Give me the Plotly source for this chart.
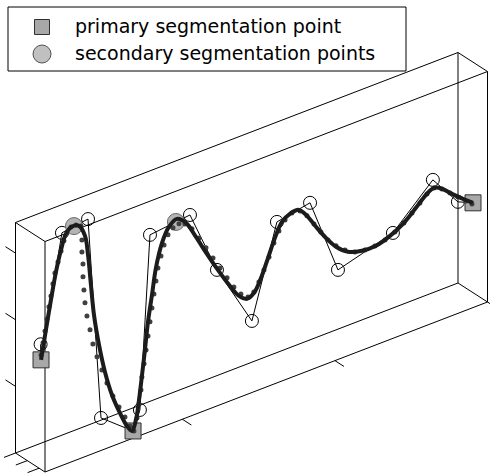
import plotly.graph_objects as go

# ---- axis limits and ticks (time [s], value, depth) ----
T_LIM = (0.1, 3.0)
V_LIM = (0.0, 1.73)
D_LIM = (0.0, 2.5)
T_TICKS = [1, 2, 3]
V_TICKS = [0.5, 1.0, 1.5]
D_TICKS = [0, 1, 2]
D_CURVE = 2.125          # depth plane that holds the stroke

# ---- reconstructed (smoothed) stroke ----
curve_t = [0.103, 0.135, 0.168, 0.201, 0.234, 0.266, 0.306, 0.352, 0.391, 0.411,
           0.430, 0.450, 0.483, 0.522, 0.568, 0.620, 0.666, 0.699, 0.725, 0.745,
           0.765, 0.784, 0.804, 0.830, 0.856, 0.896, 0.941, 0.994, 1.053, 1.118,
           1.190, 1.262, 1.335, 1.400, 1.453, 1.499, 1.545, 1.591, 1.636, 1.682,
           1.734, 1.793, 1.846, 1.905, 1.970, 2.036, 2.114, 2.206, 2.298, 2.390,
           2.475, 2.560, 2.626, 2.678, 2.731, 2.796, 2.868, 2.934]
curve_v = [0.819, 1.029, 1.240, 1.436, 1.587, 1.693, 1.730, 1.715, 1.623, 1.471,
           1.238, 1.004, 0.764, 0.544, 0.351, 0.193, 0.075, 0.023, 0.095, 0.236,
           0.415, 0.594, 0.796, 0.986, 1.178, 1.348, 1.448, 1.485, 1.429, 1.295,
           1.136, 0.984, 0.840, 0.728, 0.683, 0.708, 0.800, 0.930, 1.060, 1.160,
           1.197, 1.201, 1.133, 1.025, 0.913, 0.817, 0.745, 0.712, 0.709, 0.743,
           0.796, 0.879, 0.947, 0.977, 0.947, 0.880, 0.811, 0.752]

# ---- raw pen samples ----
sample_t = [0.103, 0.116, 0.129, 0.142, 0.155, 0.168, 0.181, 0.194, 0.214, 0.234,
            0.253, 0.273, 0.299, 0.332, 0.365,
            0.371, 0.371, 0.378, 0.378, 0.384, 0.391, 0.404, 0.424, 0.443, 0.470,
            0.502, 0.535, 0.574, 0.614, 0.653, 0.686, 0.712,
            0.732, 0.745, 0.758, 0.764, 0.778, 0.791, 0.804, 0.817, 0.830, 0.843,
            0.856, 0.869, 0.889, 0.909, 0.935, 0.968, 1.007, 1.046,
            1.092, 1.138, 1.184, 1.230, 1.276, 1.322, 1.367, 1.413, 1.459, 1.498,
            1.531, 1.564, 1.597, 1.629, 1.662, 1.702, 1.747, 1.800, 1.846, 1.892,
            1.937, 1.983, 2.036, 2.095, 2.160, 2.226, 2.291, 2.357, 2.422, 2.481,
            2.534, 2.586, 2.632, 2.678, 2.730, 2.783, 2.835, 2.888, 2.927]
sample_v = [0.856, 0.941, 1.025, 1.109, 1.194, 1.270, 1.355, 1.431, 1.505, 1.579,
            1.646, 1.697, 1.730, 1.730, 1.709,
            1.601, 1.511, 1.418, 1.321, 1.220, 1.120, 1.016, 0.903, 0.789, 0.680,
            0.568, 0.456, 0.341, 0.241, 0.148, 0.066, 0.017,
            0.106, 0.206, 0.305, 0.400, 0.492, 0.591, 0.690, 0.790, 0.889, 0.988,
            1.080, 1.172, 1.253, 1.327, 1.391, 1.429, 1.442, 1.424,
            1.367, 1.279, 1.184, 1.088, 0.993, 0.898, 0.810, 0.737, 0.695, 0.715,
            0.775, 0.851, 0.934, 1.025, 1.101, 1.166, 1.198, 1.190, 1.133, 1.052,
            0.972, 0.892, 0.824, 0.768, 0.724, 0.710, 0.711, 0.727, 0.759, 0.800,
            0.852, 0.904, 0.952, 0.976, 0.946, 0.893, 0.840, 0.786, 0.747]

# ---- candidate segmentation points ----
cand_t = [0.100, 0.240, 0.411, 0.496, 0.751, 0.817, 1.079, 1.256, 1.485, 1.649,
          1.866, 2.049, 2.409, 2.671, 2.835]
cand_v = [0.937, 1.712, 1.740, 0.210, 0.158, 1.443, 1.477, 0.987, 0.503, 1.174,
          1.222, 0.638, 0.757, 1.040, 0.803]

primary_t = [0.103, 0.706, 2.934]
primary_v = [0.819, 0.020, 0.752]
secondary_t = [0.319, 0.987]
secondary_v = [1.728, 1.465]

LEGEND_LABELS = ["primary segmentation point", "secondary segmentation points"]

# ---- oblique projection of the 3-D axes box onto the page ----
ORIGIN = (15.5, 453.0)
T_VEC = (442.5, -170.0)
V_VEC = (0.0, -230.5)
D_VEC = (29.5, 19.0)
W, H = 490, 475


def frac(val, lim):
    return (val - lim[0]) / (lim[1] - lim[0])


def project(t, v, d):
    ft, fv, fd = frac(t, T_LIM), frac(v, V_LIM), frac(d, D_LIM)
    x = ORIGIN[0] + ft * T_VEC[0] + fv * V_VEC[0] + fd * D_VEC[0]
    y = ORIGIN[1] + ft * T_VEC[1] + fv * V_VEC[1] + fd * D_VEC[1]
    return x, y


def project_many(ts, vs, d):
    pts = [project(t, v, d) for t, v in zip(ts, vs)]
    return [p[0] for p in pts], [p[1] for p in pts]


def segments(pairs):
    xs, ys = [], []
    for a, b in pairs:
        pa, pb = project(*a), project(*b)
        xs += [pa[0], pb[0], None]
        ys += [pa[1], pb[1], None]
    return xs, ys


fig = go.Figure()

# box edges
t0, t1 = T_LIM
v0, v1 = V_LIM
d0, d1 = D_LIM
edges = []
for v in (v0, v1):
    for d in (d0, d1):
        edges.append(((t0, v, d), (t1, v, d)))
for t in (t0, t1):
    for d in (d0, d1):
        edges.append(((t, v0, d), (t, v1, d)))
for t in (t0, t1):
    for v in (v0, v1):
        edges.append(((t, v, d0), (t, v, d1)))

# tick marks
dT = (t1 - t0) * 0.026
dD = (d1 - d0) * 0.34
for v in V_TICKS:
    edges.append(((t0, v, d0), (t0, v, d0 - dD)))
for t in T_TICKS:
    edges.append(((t, v0, d1), (t, v0, d1 + dD * 0.9)))
for d in D_TICKS:
    edges.append(((t0, v0, d), (t0 - dT, v0, d)))

bx, by = segments(edges)
fig.add_trace(go.Scatter(x=bx, y=by, mode="lines",
                         line=dict(color="black", width=1),
                         hoverinfo="skip", showlegend=False))

# polyline through all segmentation candidates
poly = sorted(list(zip(cand_t, cand_v)) + list(zip(primary_t, primary_v))
              + list(zip(secondary_t, secondary_v)))
px_, py_ = project_many([p[0] for p in poly], [p[1] for p in poly], D_CURVE)
fig.add_trace(go.Scatter(x=px_, y=py_, mode="lines",
                         line=dict(color="black", width=1),
                         showlegend=False))

# candidate points (open circles)
cx, cy = project_many(cand_t, cand_v, D_CURVE)
fig.add_trace(go.Scatter(x=cx, y=cy, mode="markers",
                         marker=dict(symbol="circle-open", size=13,
                                     color="black", line=dict(width=1)),
                         showlegend=False))

# secondary and primary points
sx, sy = project_many(secondary_t, secondary_v, D_CURVE)
fig.add_trace(go.Scatter(x=sx, y=sy, mode="markers",
                         marker=dict(symbol="circle", size=17, color="#b4b4b4",
                                     line=dict(color="#6a6a6a", width=1)),
                         showlegend=False))
qx, qy = project_many(primary_t, primary_v, D_CURVE)
fig.add_trace(go.Scatter(x=qx, y=qy, mode="markers",
                         marker=dict(symbol="square", size=16, color="#a8a8a8",
                                     line=dict(color="#303030", width=1)),
                         showlegend=False))

# raw samples
rx, ry = project_many(sample_t, sample_v, D_CURVE)
fig.add_trace(go.Scatter(x=rx, y=ry, mode="markers",
                         marker=dict(symbol="circle", size=5, color="#404040"),
                         showlegend=False))

# smoothed stroke
kx, ky = project_many(curve_t, curve_v, D_CURVE)
fig.add_trace(go.Scatter(x=kx, y=ky, mode="lines",
                         line=dict(color="#1c1c1c", width=4, shape="spline"),
                         showlegend=False))

# legend box
fig.add_shape(type="rect", x0=8, y0=7, x1=406, y1=71,
              line=dict(color="black", width=1), fillcolor="white", layer="below")
fig.add_trace(go.Scatter(x=[42], y=[27], mode="markers",
                         marker=dict(symbol="square", size=15, color="#a8a8a8",
                                     line=dict(color="#303030", width=1)),
                         showlegend=False))
fig.add_trace(go.Scatter(x=[42], y=[54], mode="markers",
                         marker=dict(symbol="circle", size=18, color="#c0c0c0",
                                     line=dict(color="#505050", width=1)),
                         showlegend=False))
for label, yy in zip(LEGEND_LABELS, (26, 53)):
    fig.add_annotation(x=73, y=yy, text=label, showarrow=False,
                       xanchor="left", yanchor="middle",
                       font=dict(family="DejaVu Sans", size=19, color="black"))

fig.update_layout(
    width=W, height=H,
    margin=dict(l=0, r=0, t=0, b=0),
    paper_bgcolor="white", plot_bgcolor="white",
    xaxis=dict(range=[0, W], visible=False, fixedrange=True),
    yaxis=dict(range=[H, 0], visible=False, fixedrange=True),
    showlegend=False,
)

fig.write_html("out.html")
